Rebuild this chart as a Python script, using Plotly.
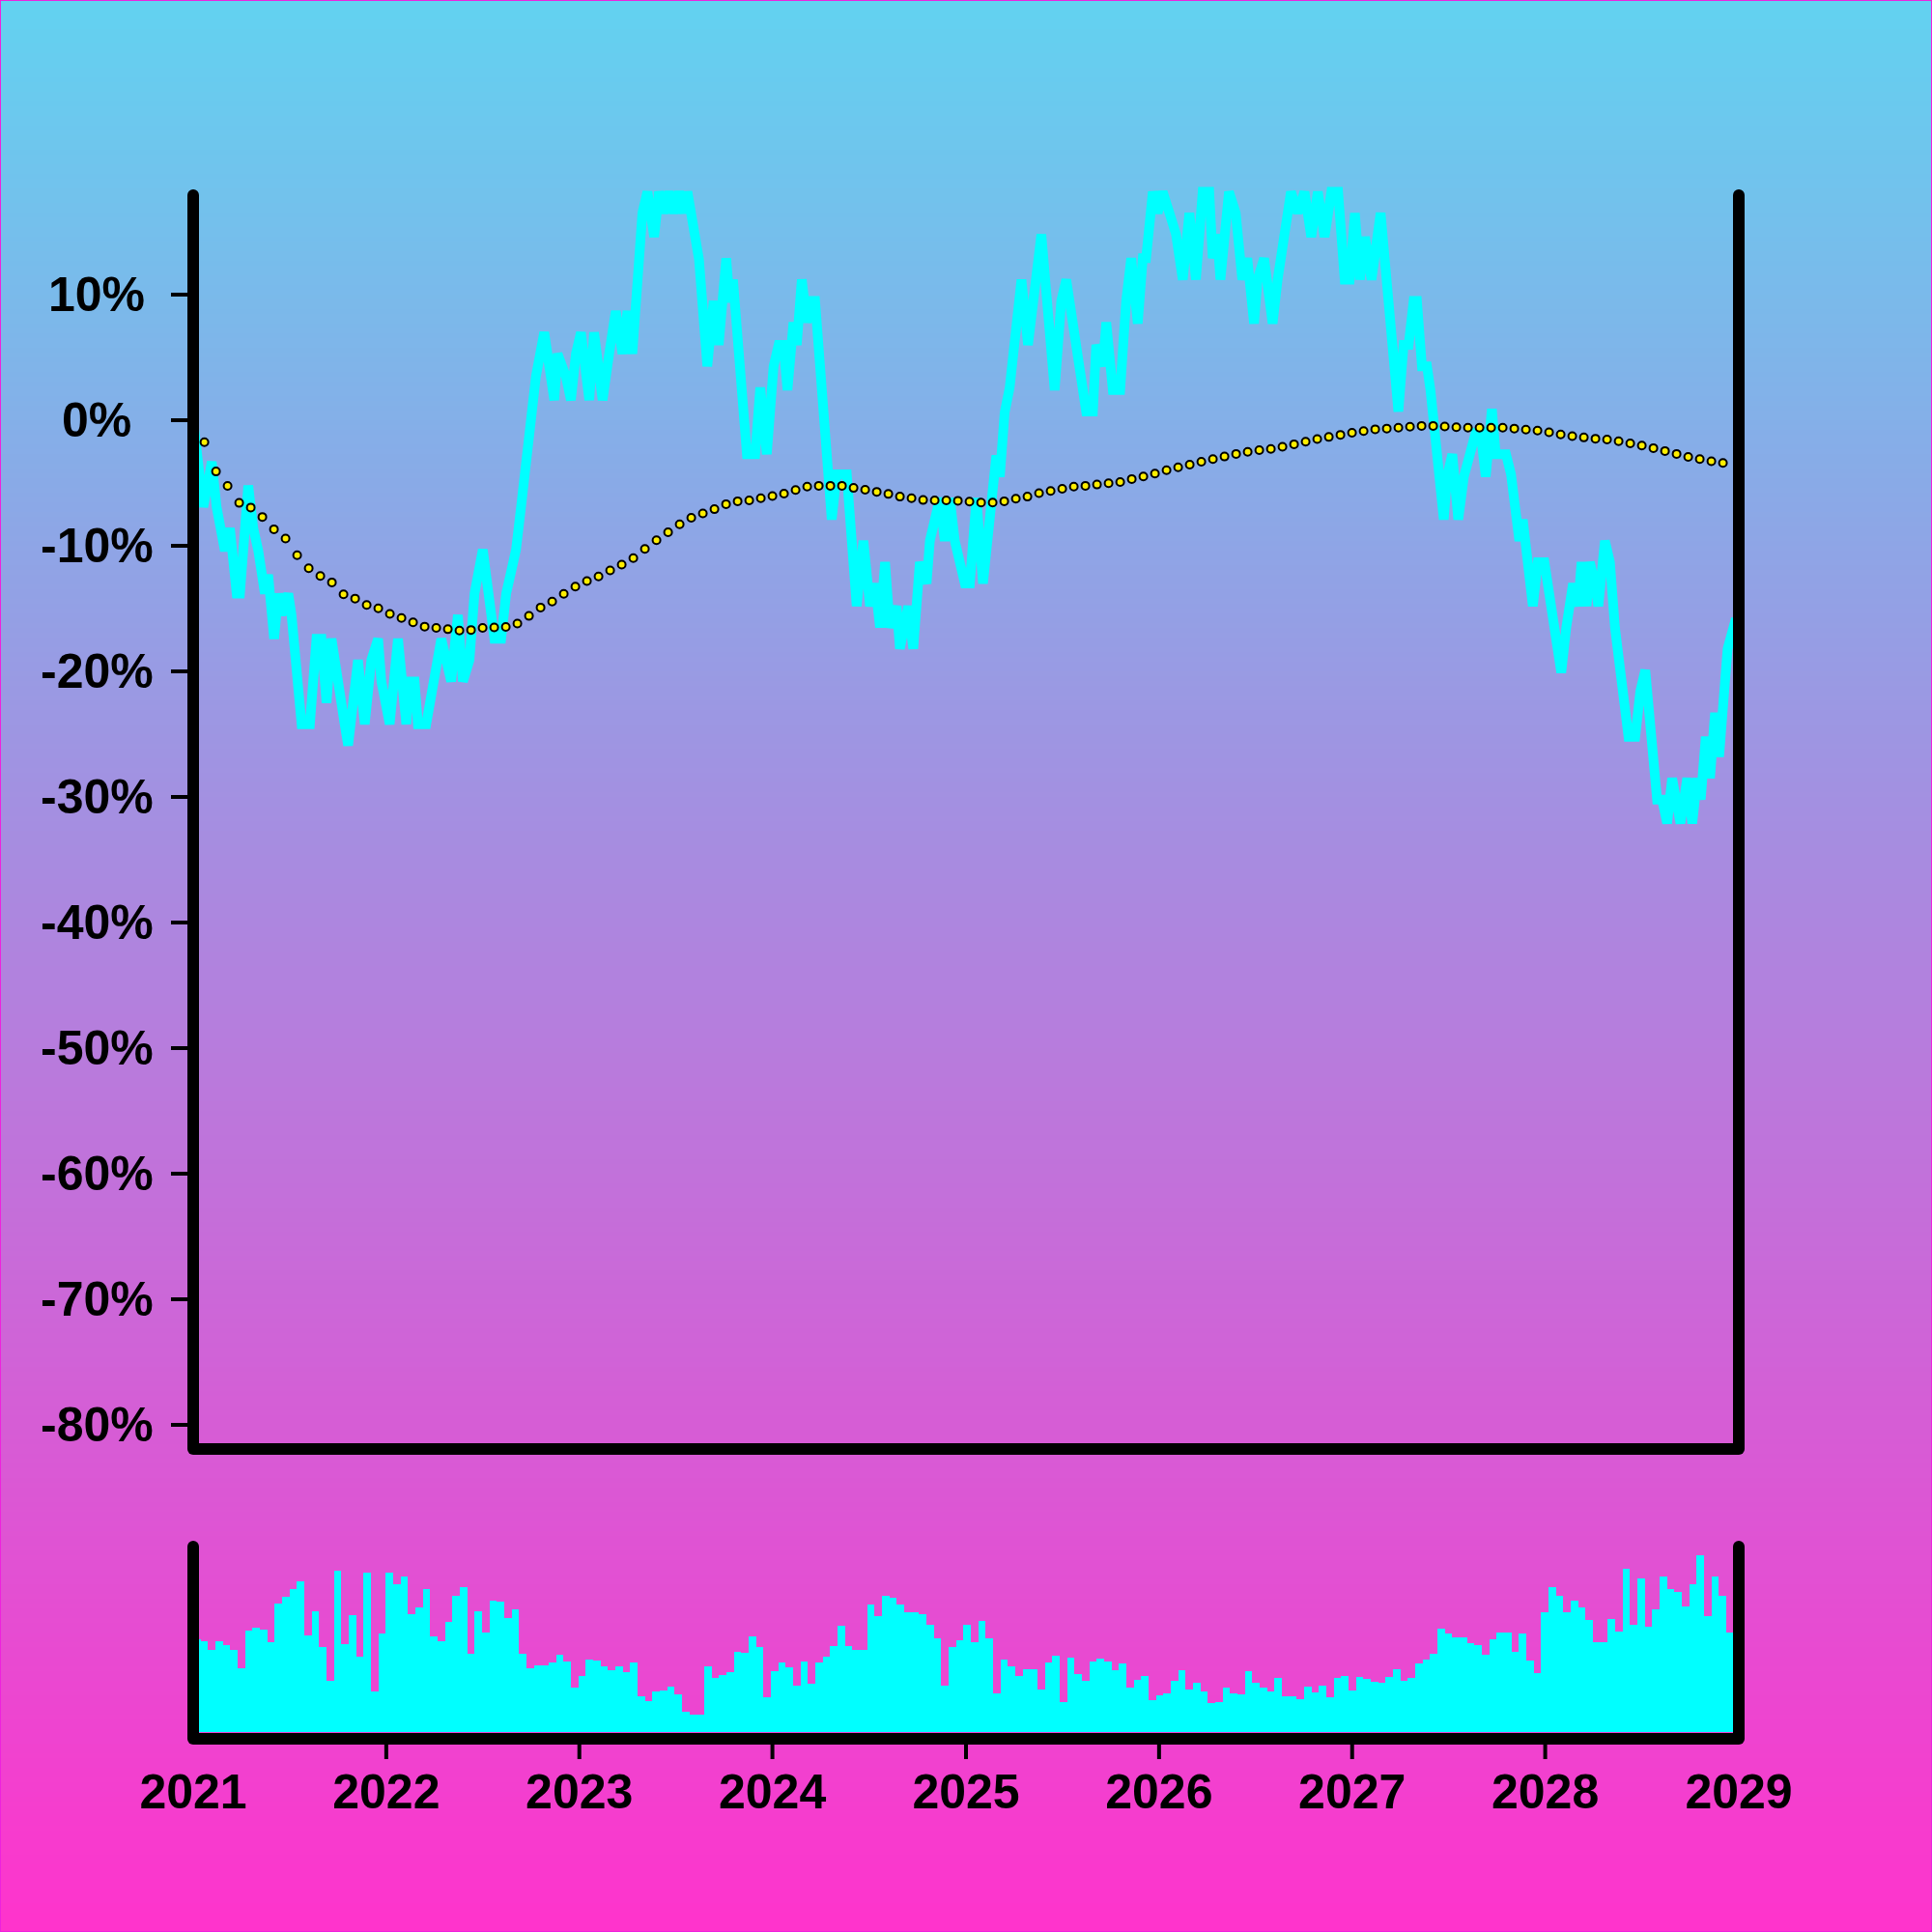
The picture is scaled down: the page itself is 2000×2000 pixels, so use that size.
import numpy as np
import pandas as pd
import plotly.graph_objects as go

W = H = 2000
FONT = "Liberation Sans, Arial, Helvetica, sans-serif"
FSIZE = 50

# ---------------- data ----------------
# price change (%) – time given as decimal year
price_t = [
    2021.000, 2021.052, 2021.078, 2021.096, 2021.121, 2021.139, 2021.164, 2021.190, 2021.225, 2021.242,
    2021.285, 2021.311, 2021.337, 2021.371, 2021.388, 2021.419, 2021.440, 2021.457, 2021.492, 2021.509,
    2021.561, 2021.604, 2021.638, 2021.664, 2021.690, 2021.716, 2021.759, 2021.784, 2021.802, 2021.853,
    2021.888, 2021.922, 2021.957, 2021.974, 2022.017, 2022.060, 2022.103, 2022.120, 2022.146, 2022.163,
    2022.206, 2022.241, 2022.284, 2022.310, 2022.335, 2022.370, 2022.396, 2022.430, 2022.456, 2022.499,
    2022.533, 2022.559, 2022.594, 2022.620, 2022.645, 2022.671, 2022.697, 2022.723, 2022.740, 2022.757,
    2022.774, 2022.817, 2022.843, 2022.869, 2022.886, 2022.929, 2022.955, 2022.981, 2023.007, 2023.050,
    2023.075, 2023.119, 2023.153, 2023.187, 2023.222, 2023.248, 2023.273, 2023.325, 2023.351, 2023.386,
    2023.411, 2023.437, 2023.463, 2023.489, 2023.515, 2023.540, 2023.558, 2023.592, 2023.618, 2023.661,
    2023.694, 2023.720, 2023.759, 2023.777, 2023.794, 2023.866, 2023.909, 2023.935, 2023.969, 2024.004,
    2024.030, 2024.055, 2024.076, 2024.107, 2024.124, 2024.150, 2024.176, 2024.202, 2024.219, 2024.305,
    2024.331, 2024.383, 2024.434, 2024.469, 2024.503, 2024.529, 2024.555, 2024.581, 2024.606, 2024.641,
    2024.658, 2024.701, 2024.727, 2024.761, 2024.796, 2024.813, 2024.839, 2024.865, 2024.890, 2024.916,
    2024.942, 2024.994, 2025.020, 2025.054, 2025.088, 2025.123, 2025.157, 2025.175, 2025.200, 2025.226,
    2025.287, 2025.321, 2025.347, 2025.364, 2025.390, 2025.459, 2025.493, 2025.519, 2025.553, 2025.571,
    2025.596, 2025.622, 2025.657, 2025.674, 2025.708, 2025.726, 2025.760, 2025.798, 2025.829, 2025.855,
    2025.889, 2025.915, 2025.932, 2025.967, 2025.992, 2026.018, 2026.053, 2026.087, 2026.122, 2026.156,
    2026.190, 2026.225, 2026.259, 2026.277, 2026.300, 2026.317, 2026.361, 2026.396, 2026.430, 2026.456,
    2026.491, 2026.509, 2026.543, 2026.587, 2026.613, 2026.648, 2026.682, 2026.717, 2026.752, 2026.787,
    2026.821, 2026.856, 2026.891, 2026.926, 2026.960, 2026.986, 2027.013, 2027.039, 2027.065, 2027.099,
    2027.146, 2027.238, 2027.265, 2027.291, 2027.317, 2027.334, 2027.360, 2027.386, 2027.404, 2027.473,
    2027.490, 2027.517, 2027.548, 2027.577, 2027.603, 2027.638, 2027.664, 2027.690, 2027.722, 2027.742,
    2027.795, 2027.821, 2027.864, 2027.882, 2027.934, 2027.960, 2027.994, 2028.029, 2028.081, 2028.107,
    2028.142, 2028.168, 2028.186, 2028.212, 2028.229, 2028.255, 2028.273, 2028.307, 2028.333, 2028.359,
    2028.429, 2028.464, 2028.490, 2028.516, 2028.577, 2028.603, 2028.629, 2028.655, 2028.698, 2028.733,
    2028.759, 2028.785, 2028.803, 2028.829, 2028.851, 2028.877, 2028.898, 2028.942, 2028.968, 2028.985,
]
price_pct = [
    0.0, -6.9, -4.9, -3.3, -6.9, -8.6, -10.4, -8.6, -13.8, -13.8,
    -5.2, -8.6, -10.4, -13.8, -12.3, -17.4, -13.8, -15.5, -13.8, -15.5,
    -24.2, -24.2, -17.4, -17.4, -22.5, -17.4, -22.5, -24.2, -25.9, -19.1,
    -24.2, -19.1, -17.4, -20.8, -24.2, -17.4, -24.2, -20.8, -20.8, -24.2,
    -24.2, -20.8, -17.4, -19.1, -20.8, -15.5, -20.8, -19.1, -13.8, -10.3,
    -13.8, -17.4, -17.4, -13.8, -12.1, -10.3, -6.9, -3.5, -0.1, 1.6,
    3.5, 7.0, 3.5, 1.6, 5.3, 3.5, 1.6, 5.3, 7.0, 1.6,
    7.0, 1.6, 5.3, 8.7, 5.3, 8.7, 5.3, 16.5, 18.2, 14.6,
    18.2, 16.5, 18.2, 16.5, 18.2, 16.5, 18.2, 14.6, 12.8, 4.3,
    9.5, 6.0, 12.9, 9.4, 11.2, -2.7, -2.7, 2.6, -2.7, 4.3,
    6.0, 6.0, 2.4, 7.8, 6.0, 11.2, 7.8, 9.5, 9.5, -7.9,
    -4.3, -4.3, -14.8, -9.6, -14.8, -13.0, -16.5, -11.3, -16.5, -14.8,
    -18.2, -14.8, -18.2, -11.3, -13.0, -9.6, -7.9, -6.2, -9.6, -6.2,
    -9.6, -13.0, -13.0, -6.2, -13.0, -7.9, -2.8, -4.5, 0.6, 2.6,
    11.2, 6.0, 9.5, 11.2, 14.8, 2.4, 9.5, 11.2, 7.7, 6.0,
    2.4, 0.7, 0.7, 6.0, 4.3, 7.8, 2.4, 2.4, 9.5, 12.9,
    7.7, 12.9, 12.9, 18.2, 16.5, 18.2, 16.5, 14.8, 11.2, 16.5,
    11.2, 18.2, 18.2, 12.9, 14.8, 11.2, 18.2, 16.5, 11.2, 12.9,
    7.7, 11.2, 12.9, 7.7, 11.2, 14.8, 18.2, 16.5, 18.2, 14.6,
    18.2, 14.6, 18.2, 18.2, 11.2, 11.2, 16.5, 11.2, 14.6, 11.2,
    16.5, 0.7, 6.0, 6.0, 9.5, 9.5, 4.3, 4.3, 2.4, -7.9,
    -4.5, -2.7, -7.9, -4.5, -2.7, -1.0, -1.0, -4.5, 0.9, -2.7,
    -2.7, -4.3, -9.6, -7.9, -14.8, -11.3, -11.3, -14.8, -20.1, -16.5,
    -13.0, -14.8, -11.3, -14.8, -11.3, -13.0, -14.8, -9.6, -11.3, -16.5,
    -25.2, -25.2, -21.6, -19.9, -30.2, -30.2, -32.1, -28.5, -32.1, -28.5,
    -32.1, -28.5, -30.2, -25.2, -28.5, -23.3, -26.8, -18.2, -16.5, -15.8,
]

# smoothed average (%), one point every 0.06 year starting at 2021.058
ma_start_year = 2021.058
ma_step_year = 0.06
ma_pct = [
    -1.74, -4.08, -5.23, -6.58, -6.95, -7.70, -8.68, -9.42, -10.75, -11.79,
    -12.40, -12.91, -13.86, -14.20, -14.71, -14.98, -15.42, -15.75, -16.09, -16.43,
    -16.54, -16.64, -16.74, -16.70, -16.54, -16.50, -16.46, -16.19, -15.58, -14.91,
    -14.44, -13.82, -13.25, -12.81, -12.44, -11.96, -11.49, -10.98, -10.24, -9.56,
    -8.92, -8.28, -7.77, -7.42,
    -7.08, -6.68, -6.45, -6.38, -6.21, -6.04, -5.84, -5.56, -5.29, -5.22,
    -5.22, -5.22, -5.39, -5.53, -5.70, -5.87, -6.08, -6.21, -6.35, -6.38,
    -6.38, -6.41, -6.48, -6.55, -6.55, -6.45, -6.24, -6.08, -5.80, -5.63,
    -5.46, -5.29, -5.22, -5.12, -5.02, -4.92, -4.68, -4.48, -4.25, -3.98,
    -3.74, -3.53, -3.30, -3.09,
    -2.89, -2.68, -2.52, -2.38, -2.28, -2.11, -1.91, -1.71, -1.50, -1.33,
    -1.16, -0.99, -0.86, -0.72, -0.66, -0.59, -0.52, -0.45, -0.45, -0.49,
    -0.55, -0.59, -0.59, -0.59, -0.59, -0.66, -0.75, -0.82, -0.96, -1.13,
    -1.26, -1.37, -1.47, -1.54, -1.67, -1.84, -2.01, -2.22, -2.45, -2.68,
    -2.92, -3.09, -3.26, -3.40,
]

# volume (index), one bar every 14 days starting 2021-01-01
vol_start = "2021-01-01"
vol_days = 14
vol_2021_2023 = [
    49.2, 47.9, 43.3, 48.0, 45.8, 43.5, 33.6, 53.5, 55.2, 54.3,
    47.4, 67.9, 71.6, 75.6, 79.8, 50.9, 63.8, 45.0, 27.2, 85.2,
    46.7, 61.6, 39.9, 84.0, 21.6, 52.1, 84.4, 78.1, 82.2, 62.1,
    65.7, 75.4, 50.6, 48.2, 58.1, 71.8, 76.6, 41.6, 63.8, 52.6,
    69.6, 68.9, 60.1, 64.9, 41.4, 34.0, 35.3, 35.3, 36.7, 40.7,
    37.4, 23.8, 29.7, 38.4, 37.7, 34.8, 32.6, 34.6, 31.6, 36.7,
    19.2, 16.6, 21.4, 22.1, 24.1, 19.9, 11.0, 9.3, 9.3, 35.0,
]
vol_2023_2026 = [
    28.9, 30.2, 31.7, 42.4, 41.9, 50.4, 44.8, 18.7, 32.3, 37.0,
    34.3, 24.6, 37.4, 25.6, 36.8, 39.9, 45.5, 56.4, 45.5, 43.3,
    43.3, 67.4, 61.3, 71.8, 71.0, 67.2, 63.2, 63.5, 62.3, 56.5,
    49.6, 24.6, 45.0, 48.6, 56.9, 47.5, 58.6, 49.6, 20.4, 38.5,
    34.8, 29.5, 33.4, 33.1, 22.8, 36.8, 40.4, 16.1, 39.6, 30.9,
    27.3, 37.4, 38.9, 37.5, 32.8, 36.3, 23.8, 27.7, 29.7, 17.1,
    19.5, 20.5, 27.3, 32.6, 22.6, 26.0, 21.4, 15.3, 16.1,
]
vol_2026_2029 = [
    23.4, 20.4, 20.0, 32.3, 26.0, 23.8, 21.6, 28.5, 19.2, 19.2,
    17.5, 24.3, 20.9, 24.6, 18.7, 28.9, 29.7, 22.1, 29.2, 28.4,
    26.7, 26.0, 29.4, 33.1, 27.2, 28.5, 36.3, 38.5, 41.4, 54.5,
    52.0, 49.9, 49.9, 47.0, 46.2, 40.7, 49.2, 52.6, 52.6, 42.6,
    52.1, 37.9, 31.1, 63.2, 76.7, 72.2, 63.3, 69.3, 66.0, 59.1,
    47.5, 47.5, 59.8, 53.1, 86.1, 56.7, 81.0, 55.9, 64.9, 82.0,
    75.4, 73.9, 66.2, 78.1, 93.4, 61.1, 82.0, 72.0, 52.6, 73.3,
]

year_ticks = [2021, 2022, 2023, 2024, 2025, 2026, 2027, 2028, 2029]
pct_ticks = [10, 0, -10, -20, -30, -40, -50, -60, -70, -80]

# ---------------- helpers ----------------
BASE = pd.Timestamp("2021-01-01")


def year_to_date(y):
    return BASE + pd.to_timedelta((np.asarray(y, dtype=float) - 2021.0) * 365.25, unit="D")


price_dates = year_to_date(price_t)
ma_years = ma_start_year + ma_step_year * np.arange(len(ma_pct))
ma_dates = year_to_date(ma_years)
vol = vol_2021_2023 + vol_2023_2026 + vol_2026_2029
vol_dates = pd.date_range(vol_start, periods=len(vol), freq=f"{vol_days}D") + pd.Timedelta(days=vol_days / 2)
year_dates = [pd.Timestamp(f"{y}-01-01") for y in year_ticks]
x_range = [year_dates[0], year_dates[-1]]

CYAN = "#00ffff"

fig = go.Figure()
fig.add_trace(go.Scatter(
    x=price_dates, y=price_pct, mode="lines", xaxis="x", yaxis="y",
    line=dict(color=CYAN, width=10), hoverinfo="skip", name="price",
))
fig.add_trace(go.Scatter(
    x=ma_dates, y=ma_pct, mode="markers", xaxis="x", yaxis="y",
    marker=dict(size=8, color="#ffee00", line=dict(color="black", width=2)),
    name="average",
))
fig.add_trace(go.Bar(
    x=vol_dates, y=vol, xaxis="x2", yaxis="y2",
    width=vol_days * 86400000, marker=dict(color=CYAN, line=dict(width=0)),
    name="volume",
))

# ---------------- background gradient ----------------
top_rgb = np.array([98, 210, 240])
bot_rgb = np.array([255, 51, 204])
shapes = []
N = 400
for k in range(N):
    f = (k + 0.5) / N  # 0 bottom -> 1 top
    c = bot_rgb + (top_rgb - bot_rgb) * f
    shapes.append(dict(
        type="rect", xref="paper", yref="paper", x0=0, x1=1,
        y0=k / N, y1=min(1, (k + 1) / N + 0.001),
        fillcolor="rgb(%d,%d,%d)" % tuple(np.round(c).astype(int)),
        line=dict(width=0), layer="below",
    ))


def px_line(x0, y0, x1, y1, w=12):
    return dict(type="line", xref="paper", yref="paper",
                x0=x0 / W, x1=x1 / W, y0=1 - y0 / H, y1=1 - y1 / H,
                line=dict(color="black", width=w), layer="above")


def px_dot(cx, cy, r=6):
    return dict(type="circle", xref="paper", yref="paper",
                x0=(cx - r) / W, x1=(cx + r) / W, y0=1 - (cy + r) / H, y1=1 - (cy - r) / H,
                fillcolor="black", line=dict(width=0), layer="above")


L, R = 200, 1800
MT, MB = 202, 1500
BT, BB = 1601, 1800
shapes += [
    px_line(L, MT, L, MB), px_line(R, MT, R, MB), px_line(L, MB, R, MB),
    px_dot(L, MT), px_dot(R, MT), px_dot(L, MB), px_dot(R, MB),
    px_line(L, BT, L, BB), px_line(R, BT, R, BB), px_line(L, BB, R, BB),
    px_dot(L, BT), px_dot(R, BT), px_dot(L, BB), px_dot(R, BB),
    dict(type="rect", xref="paper", yref="paper", x0=0, x1=1, y0=0, y1=1,
         line=dict(color="#ee22dd", width=2), fillcolor="rgba(0,0,0,0)", layer="above"),
]
# visible year tick marks only for the inner years (ends coincide with the frame corners)
for d in year_dates[1:-1]:
    shapes.append(dict(type="line", xref="x2", yref="paper", x0=d, x1=d,
                       y0=1 - BB / H, y1=1 - (BB + 21) / H,
                       line=dict(color="black", width=4), layer="above"))

annotations = [
    dict(x=0.05, xref="paper", y=v, yref="y", text=f"{v}%", showarrow=False,
         xanchor="center", yanchor="middle",
         font=dict(family=FONT, size=FSIZE, color="black", weight="bold"))
    for v in pct_ticks
]

fig.update_layout(
    width=W, height=H, autosize=False,
    margin=dict(l=0, r=0, t=0, b=0, pad=0, autoexpand=False),
    paper_bgcolor="#b082de", plot_bgcolor="rgba(0,0,0,0)",
    showlegend=False, bargap=0,
    shapes=shapes, annotations=annotations,
    xaxis=dict(domain=[0.1, 0.9], range=x_range, anchor="y", showticklabels=False,
               ticks="", showgrid=False, zeroline=False, showline=False, automargin=False),
    yaxis=dict(domain=[0.25, 0.905], range=[-81.92, 18.85], anchor="x",
               tickvals=pct_ticks, ticks="outside", ticklen=22, tickwidth=4,
               tickcolor="black", showticklabels=False, showgrid=False,
               zeroline=False, showline=False, automargin=False),
    xaxis2=dict(domain=[0.1, 0.9], range=x_range, anchor="y2",
                tickvals=year_dates, ticktext=[str(y) for y in year_ticks],
                ticks="outside", ticklen=21, tickwidth=4, tickcolor="rgba(0,0,0,0)",
                tickfont=dict(family=FONT, size=FSIZE, color="black", weight="bold"),
                ticklabelstandoff=-10, automargin=False,
                showgrid=False, zeroline=False, showline=False),
    yaxis2=dict(domain=[0.1, 0.2015], range=[-3.4, 100], anchor="x2",
                showticklabels=False, ticks="", showgrid=False, zeroline=False,
                showline=False, automargin=False),
)

fig.write_html(
    "out.html",
    config={"displayModeBar": False},
    post_script="document.body.style.margin='0';document.body.style.padding='0';",
)
